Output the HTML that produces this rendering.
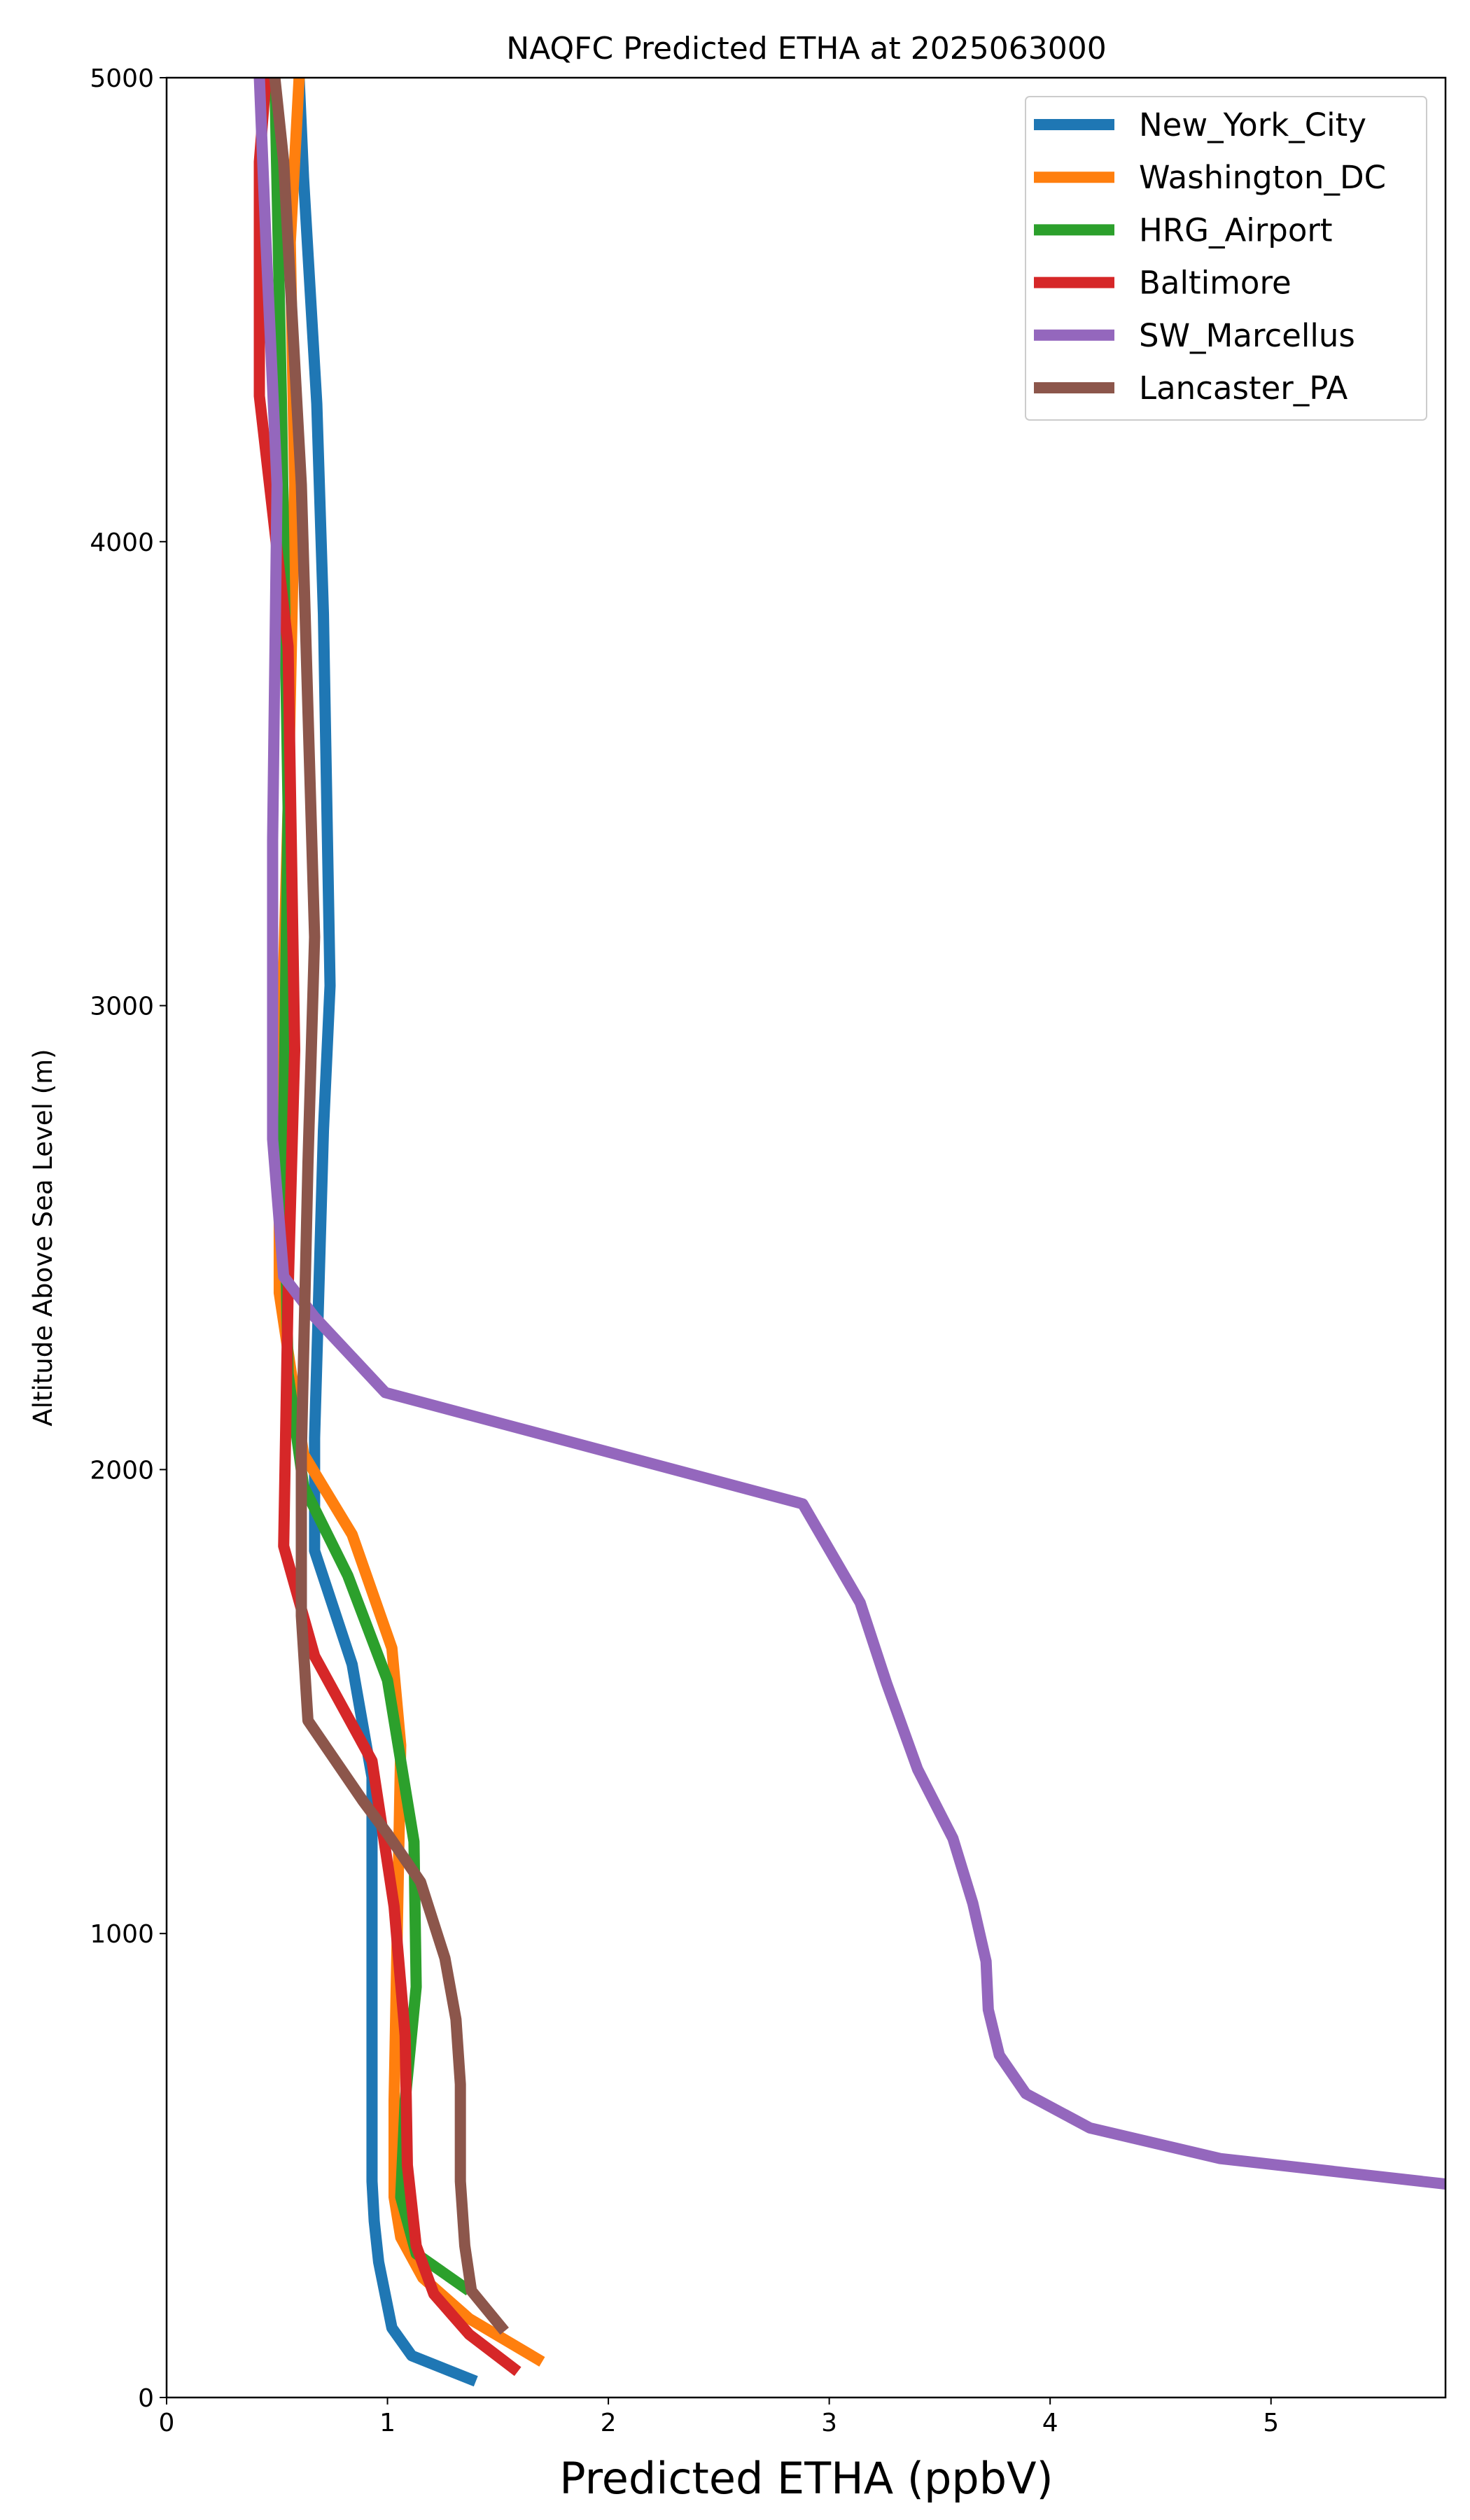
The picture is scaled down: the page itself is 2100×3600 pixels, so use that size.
<!DOCTYPE html>
<html><head><meta charset="utf-8"><style>
html,body{margin:0;padding:0;background:#fff;}
svg{display:block;font-family:"DejaVu Sans","Liberation Sans",sans-serif;}
</style></head><body>
<svg id="chart" width="2100" height="3600" viewBox="0 0 2100 3600" xmlns="http://www.w3.org/2000/svg">
<rect width="2100" height="3600" fill="#fff"/>
<text x="1152" y="84" font-size="44" text-anchor="middle">NAQFC Predicted ETHA at 2025063000</text>
<defs><clipPath id="clip"><rect x="238" y="111" width="1827" height="3314"/></clipPath></defs>
<g id="series" clip-path="url(#clip)"></g>
<rect x="238" y="111" width="1827" height="3314" fill="none" stroke="#000" stroke-width="2.5"/>
<g id="xticks"></g><g id="yticks"></g>
<text x="1152" y="3562" font-size="62" text-anchor="middle">Predicted ETHA (ppbV)</text>
<text transform="translate(74,1768) rotate(-90)" font-size="37" text-anchor="middle">Altitude Above Sea Level (m)</text>
<g id="legend"></g>
</svg>
<script>
const seriesNames=["New_York_City","Washington_DC","HRG_Airport","Baltimore","SW_Marcellus","Lancaster_PA"];
const seriesColors=["#1f77b4","#ff7f0e","#2ca02c","#d62728","#9467bd","#8c564b"];
const nycX=[1.40,1.11,1.02,0.96,0.94,0.93,0.93,0.91,0.84,0.67,0.67,0.71,0.74,0.71,0.68,0.62,0.60];
const nycY=[35,90,150,292,380,466,1337,1390,1580,1825,2068,2730,3043,3844,4297,4784,5000];
const dcX=[1.70,1.37,1.16,1.06,1.03,1.03,1.06,1.02,0.84,0.62,0.51,0.51,0.55,0.58,0.56,0.60];
const dcY=[77,170,258,345,432,640,1406,1615,1860,2033,2381,2730,3426,4123,4645,5000];
const hrgX=[1.37,1.13,1.06,1.08,1.13,1.12,1.00,0.82,0.62,0.55,0.53,0.55,0.52,0.49];
const hrgY=[230,310,432,640,885,1198,1546,1772,1964,2207,2730,3426,4300,5000];
const balX=[1.59,1.37,1.21,1.13,1.09,1.08,1.03,0.93,0.67,0.53,0.55,0.58,0.55,0.42,0.42,0.45];
const balY=[56,136,223,327,501,780,1058,1372,1598,1835,2381,2904,3774,4314,4819,5000];
const marX=[5.79,4.77,4.18,3.89,3.77,3.72,3.71,3.65,3.56,3.40,3.26,3.14,2.88,0.99,0.67,0.53,0.48,0.48,0.50,0.45,0.42];
const marY=[460,515,581,655,738,836,940,1065,1205,1354,1539,1713,1926,2166,2329,2416,2712,3357,4123,4645,5000];
const lanX=[1.53,1.38,1.35,1.33,1.33,1.31,1.26,1.15,1.00,0.89,0.64,0.61,0.61,0.64,0.67,0.61,0.53,0.49];
const lanY=[143,230,327,466,675,815,947,1111,1215,1285,1459,1685,2033,2660,3148,4123,4819,5000];
const xTicks=[0,1,2,3,4,5];
const yTicks=[0,1000,2000,3000,4000,5000];
const xData=[nycX,dcX,hrgX,balX,marX,lanX];
const yData=[nycY,dcY,hrgY,balY,marY,lanY];
const X0=238,X1=2065,Y0=3425,Y1=111,XMAX=5.79,YMAX=5000;
const sx=v=>X0+(X1-X0)*v/XMAX;
const sy=v=>Y0-(Y0-Y1)*v/YMAX;
const NS="http://www.w3.org/2000/svg";
const g=document.getElementById('series');
for(let i=0;i<seriesNames.length;i++){
  const p=document.createElementNS(NS,'polyline');
  p.setAttribute('points',xData[i].map((x,j)=>sx(x)+','+sy(yData[i][j])).join(' '));
  p.setAttribute('fill','none');p.setAttribute('stroke',seriesColors[i]);
  p.setAttribute('stroke-width','16');p.setAttribute('stroke-linejoin','round');
  
  
  g.appendChild(p);
}
const xt=document.getElementById('xticks');
xTicks.forEach(t=>{
  const l=document.createElementNS(NS,'line');
  l.setAttribute('x1',sx(t));l.setAttribute('x2',sx(t));l.setAttribute('y1',Y0);l.setAttribute('y2',Y0+10);
  l.setAttribute('stroke','#000');l.setAttribute('stroke-width','2');
  
  
  xt.appendChild(l);
  const s=document.createElementNS(NS,'text');
  s.setAttribute('x',sx(t));s.setAttribute('y',Y0+48);s.setAttribute('font-size','36');s.setAttribute('text-anchor','middle');
  s.textContent=t;
  
  
  xt.appendChild(s);
});
const yt=document.getElementById('yticks');
yTicks.forEach(t=>{
  const l=document.createElementNS(NS,'line');
  l.setAttribute('x1',X0-10);l.setAttribute('x2',X0);l.setAttribute('y1',sy(t));l.setAttribute('y2',sy(t));
  l.setAttribute('stroke','#000');l.setAttribute('stroke-width','2');
  
  
  yt.appendChild(l);
  const s=document.createElementNS(NS,'text');
  s.setAttribute('x',X0-18);s.setAttribute('y',sy(t)+13);s.setAttribute('font-size','36');s.setAttribute('text-anchor','end');
  s.textContent=t;
  
  
  yt.appendChild(s);
});
const lg=document.getElementById('legend');
const box=document.createElementNS(NS,'rect');
box.setAttribute('x',1465);box.setAttribute('y',138);box.setAttribute('width',573);box.setAttribute('height',462);
box.setAttribute('rx',6);box.setAttribute('fill','#fff');box.setAttribute('fill-opacity','0.8');box.setAttribute('stroke','#ccc');box.setAttribute('stroke-width','2');


lg.appendChild(box);
seriesNames.forEach((n,i)=>{
  const y=178+i*75.2;
  const l=document.createElementNS(NS,'line');
  l.setAttribute('x1',1477);l.setAttribute('x2',1592);l.setAttribute('y1',y);l.setAttribute('y2',y);
  l.setAttribute('stroke',seriesColors[i]);l.setAttribute('stroke-width','16');
  
  
  lg.appendChild(l);
  const s=document.createElementNS(NS,'text');
  s.setAttribute('x',1627);s.setAttribute('y',y+16);s.setAttribute('font-size','45');
  s.textContent=n;
  
  
  lg.appendChild(s);
});
</script>
</body></html>
